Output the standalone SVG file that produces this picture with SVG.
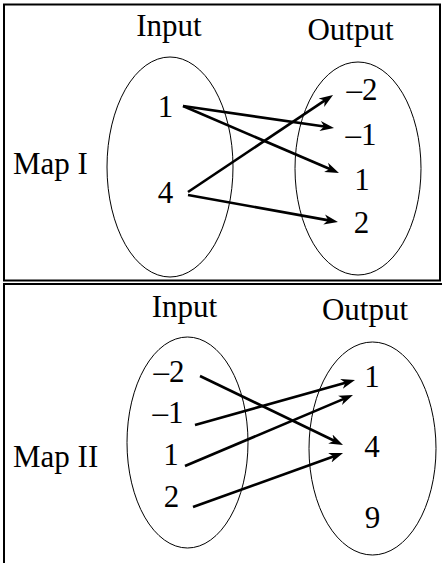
<svg xmlns="http://www.w3.org/2000/svg" width="442" height="563" viewBox="0 0 442 563">
<style>
.box{fill:none;stroke:#000;stroke-width:2}
.set{fill:none;stroke:#000;stroke-width:1}
text{font-family:"Liberation Serif","Times New Roman",serif;font-size:31px;fill:#000}
.m{text-anchor:middle}
.arr{stroke:#000;stroke-width:2.6;fill:none;marker-end:url(#ah)}
</style>
<defs>
<marker id="ah" markerUnits="userSpaceOnUse" markerWidth="16" markerHeight="12" refX="6" refY="5" orient="auto" viewBox="0 0 16 10">
<path d="M0,0 L14,5 L0,10 L4,5 Z" fill="#000"/>
</marker>
</defs>
<rect x="0" y="0" width="442" height="563" fill="#fff"/>
<g id="map1">
<rect class="box" x="4" y="4.5" width="436" height="276"/>
<text x="13" y="174">Map I</text>
</g>
<g id="input1">
<ellipse class="set" cx="170" cy="167" rx="63" ry="110"/>
<text class="m" x="169" y="36">Input</text>
<text class="m" x="165.5" y="117">1</text>
<text class="m" x="165.5" y="203">4</text>
</g>
<g id="output1">
<ellipse class="set" cx="358" cy="168.5" rx="63" ry="106.5"/>
<text class="m" x="350.5" y="40">Output</text>
<text class="m" x="362" y="100">–2</text>
<text class="m" x="361" y="145">–1</text>
<text class="m" x="362" y="190">1</text>
<text class="m" x="361.5" y="233">2</text>
</g>
<g id="map2">
<rect class="box" x="4" y="284" width="450" height="300"/>
<text x="13" y="467">Map II</text>
</g>
<g id="input2">
<ellipse class="set" cx="187.5" cy="442.5" rx="60.5" ry="105.5"/>
<text class="m" x="184.5" y="317">Input</text>
<text class="m" x="169" y="382">–2</text>
<text class="m" x="168" y="423">–1</text>
<text class="m" x="171" y="465">1</text>
<text class="m" x="171.5" y="507">2</text>
</g>
<g id="output2">
<ellipse class="set" cx="372.5" cy="448.5" rx="63.5" ry="106.5"/>
<text class="m" x="365" y="320">Output</text>
<text class="m" x="372" y="387">1</text>
<text class="m" x="372" y="457">4</text>
<text class="m" x="372.5" y="528">9</text>
</g>
<g id="connectors">
<line class="arr" x1="183" y1="106" x2="326.1" y2="126.8"/>
<line class="arr" x1="183" y1="106" x2="331.6" y2="169.8"/>
<line class="arr" x1="188" y1="192" x2="326.4" y2="99.4"/>
<line class="arr" x1="188" y1="195" x2="330.1" y2="220.6"/>
<line class="arr" x1="200" y1="376" x2="335.8" y2="441.5"/>
<line class="arr" x1="195" y1="425" x2="347.3" y2="382.2"/>
<line class="arr" x1="185" y1="466" x2="345.6" y2="398.1"/>
<line class="arr" x1="193" y1="507" x2="335.5" y2="455.7"/>
</g>
</svg>
